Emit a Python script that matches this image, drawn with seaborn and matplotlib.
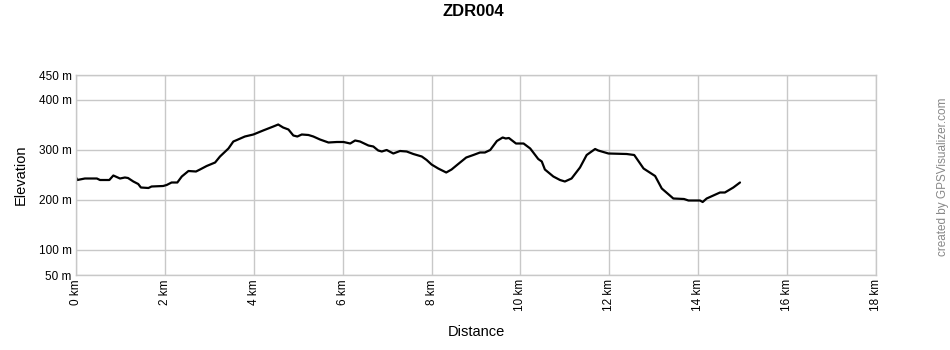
import matplotlib
matplotlib.use("Agg")
import matplotlib.pyplot as plt
import seaborn as sns
import pandas as pd

title = "ZDR004"
distance_km = [0.0, 0.03, 0.2, 0.47, 0.54, 0.75, 0.84, 0.99, 1.1, 1.17, 1.29, 1.40, 1.46, 1.63, 1.70,
               1.96, 2.04, 2.15, 2.28, 2.38, 2.53, 2.70, 2.79, 2.94, 3.13, 3.24, 3.43, 3.54, 3.62, 3.80,
               3.99, 4.21, 4.44, 4.55, 4.66, 4.78, 4.89, 4.98, 5.08, 5.23, 5.34, 5.49, 5.68, 5.87, 6.02,
               6.17, 6.28, 6.39, 6.58, 6.69, 6.80, 6.88, 6.99, 7.14, 7.29, 7.44, 7.59, 7.78, 7.89, 8.0,
               8.15, 8.33, 8.45, 8.60, 8.78, 8.94, 9.09, 9.20, 9.32, 9.47, 9.60, 9.67, 9.74, 9.90, 10.07,
               10.22, 10.40, 10.48, 10.55, 10.74, 10.89, 11.0, 11.15, 11.34, 11.49, 11.68, 11.75, 11.98,
               12.39, 12.56, 12.77, 13.03, 13.18, 13.44, 13.68, 13.78, 14.04, 14.10, 14.19, 14.34, 14.49,
               14.60, 14.79, 14.94]
elevation_m = [245, 240, 243, 243, 240, 240, 249, 243, 245, 244, 237, 232, 225, 224, 227,
               228, 230, 235, 235, 247, 258, 257, 261, 268, 275, 287, 303, 317, 320, 327,
               331, 339, 347, 351, 345, 341, 329, 327, 331, 330, 327, 321, 315, 316, 316,
               313, 319, 317, 309, 307, 299, 297, 300, 293, 298, 297, 292, 287, 280, 271,
               263, 255, 261, 272, 285, 290, 295, 295, 300, 318, 325, 323, 324, 313, 313,
               303, 282, 277, 261, 247, 240, 237, 243, 265, 290, 302, 299, 293,
               292, 290, 263, 248, 223, 203, 202, 199, 199, 196, 203, 209, 215,
               215, 225, 235]
y_ticks = [50, 100, 200, 300, 400, 450]
x_ticks = [0, 2, 4, 6, 8, 10, 12, 14, 16, 18]

df = pd.DataFrame({"Distance": distance_km, "Elevation": elevation_m})

sns.set_style("whitegrid", {"grid.color": "#c8c8c8", "axes.edgecolor": "#c8c8c8",
                            "text.color": "black", "axes.labelcolor": "black",
                            "xtick.color": "black", "ytick.color": "black"})
plt.rcParams["font.family"] = ["Liberation Sans", "DejaVu Sans"]

fig = plt.figure(figsize=(9.5, 3.5), dpi=100)
ax = fig.add_axes([76 / 950, 1 - 275 / 350, 800 / 950, 200 / 350])
sns.lineplot(data=df, x="Distance", y="Elevation", color="black", linewidth=1.6, ax=ax)

ax.set_xlim(0, 18)
ax.set_ylim(50, 450)
ax.set_xticks(x_ticks)
ax.set_xticklabels([f"{t} km" for t in x_ticks], rotation=90, fontsize=8.5)
ax.set_yticks(y_ticks)
ax.set_yticklabels([f"{t} m" for t in y_ticks], fontsize=8.5)
ax.tick_params(length=0, pad=3)
for s in ax.spines.values():
    s.set_color("#c8c8c8")
    s.set_linewidth(1)
ax.grid(True, color="#c8c8c8", linewidth=1)
ax.set_xlabel("Distance", fontsize=10.5, labelpad=10)
ax.set_ylabel("Elevation", fontsize=10.5, labelpad=8)

fig.text(473 / 950, 1 - 12 / 350, title, ha="center", va="center", fontsize=12, fontweight="bold")
fig.text(943 / 950, 1 - 177 / 350, "created by GPSVisualizer.com", rotation=90,
         ha="center", va="center", fontsize=8.5, color="#888888")

fig.savefig("out.png", dpi=100)
